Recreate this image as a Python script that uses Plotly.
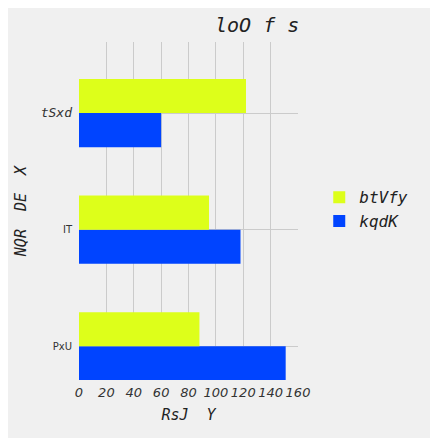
import plotly.graph_objects as go

categories = ["PxU", "IT", "tSxd"]
btvfy = [88, 95, 122]
kqdk = [151, 118, 60]

tick_labels = [
    "<span style='font-size:10px'>PxU</span>",
    "<span style='font-size:10px'>IT</span>",
    "<i><span style='font-family:DejaVu Sans Mono;font-size:13px'>tSxd</span></i>",
]

mono = "DejaVu Sans Mono"

fig = go.Figure()
# first trace sits lowest in each horizontal group
fig.add_trace(go.Bar(y=categories, x=kqdk, name="kqdK", orientation="h",
                     marker=dict(color="#0044ff", line=dict(width=0))))
fig.add_trace(go.Bar(y=categories, x=btvfy, name="btVfy", orientation="h",
                     marker=dict(color="#ddff1a", line=dict(width=0))))

fig.update_layout(
    width=438, height=438,
    margin=dict(l=71, r=148, t=34, b=66, autoexpand=False),
    paper_bgcolor="#f0f0f0", plot_bgcolor="#f0f0f0",
    barmode="group", bargap=0.416, bargroupgap=0,
    title=dict(text="loO f s", x=0.665, xanchor="right", y=0.961, yanchor="middle",
               font=dict(family=mono, size=20, style="italic", color="#222222")),
    legend=dict(x=1.097, xanchor="left", y=0.505, yanchor="middle",
                traceorder="reversed", bgcolor="rgba(0,0,0,0)", tracegroupgap=0,
                font=dict(family=mono, size=16, style="italic", color="#222222")),
    xaxis=dict(range=[0, 160], tickvals=[0, 20, 40, 60, 80, 100, 120, 140, 160],
               automargin=False, tickangle=0, ticklabelstandoff=3,
               showgrid=True, gridcolor="#cbcbcb", gridwidth=1, zeroline=False,
               showline=False, ticks="",
               tickfont=dict(family="DejaVu Sans", size=13, style="italic", color="#333333"),
               title=dict(text="RsJ  Y", standoff=10,
                          font=dict(family=mono, size=15, style="italic", color="#222222"))),
    yaxis=dict(type="category", categoryorder="array", categoryarray=categories,
               range=[-0.29, 2.61], tickvals=categories, ticktext=tick_labels,
               automargin=False,
               showgrid=True, gridcolor="#cbcbcb", gridwidth=1, zeroline=False,
               showline=False, ticks="", ticklabelstandoff=6,
               tickfont=dict(family="DejaVu Sans", size=10, color="#333333"),
               title=dict(text="NQR  DE  X", standoff=10,
                          font=dict(family=mono, size=15, style="italic", color="#222222"))),
)

fig.write_html("out.html")
